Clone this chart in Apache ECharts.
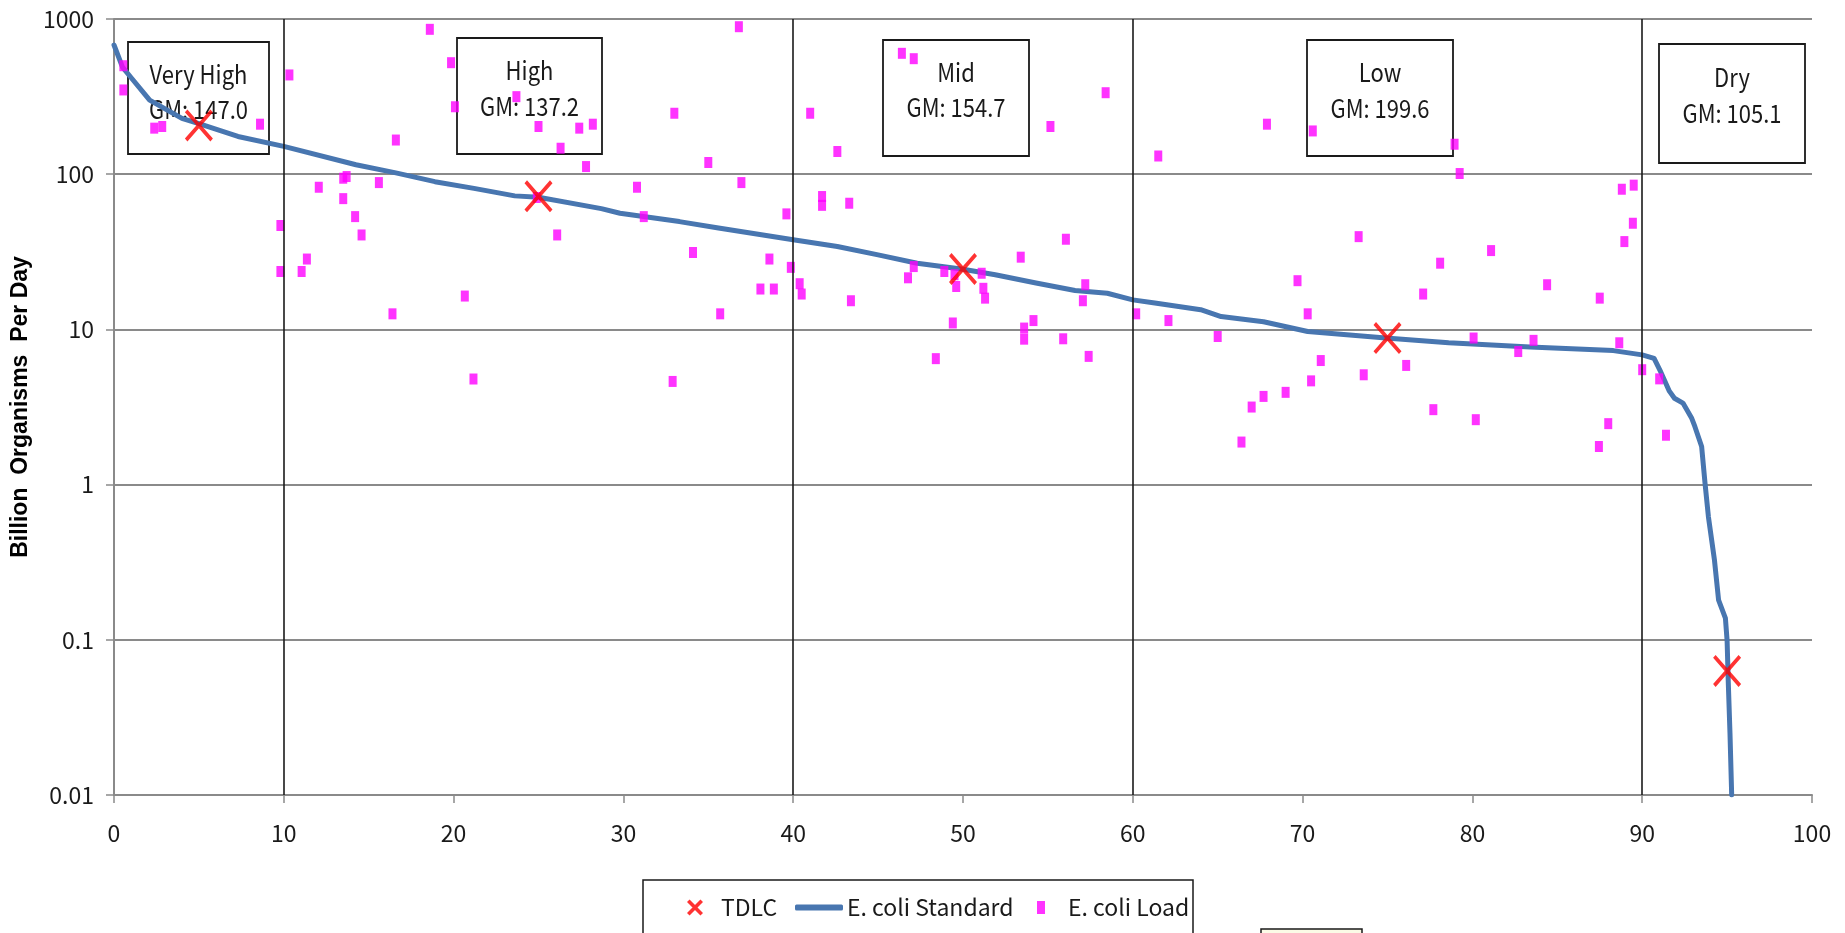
<!DOCTYPE html>
<html>
<head>
<meta charset="utf-8">
<script src="https://cdn.jsdelivr.net/npm/echarts@6/dist/echarts.min.js"></script>
<style>
html,body{margin:0;padding:0;background:#fff;}
#chart{width:1845px;height:933px;}
</style>
</head>
<body>
<div id="chart"></div>
<script>
// ---- data ----
const xTicks = [0,10,20,30,40,50,60,70,80,90,100];
const yTicks = [0.01,0.1,1,10,100,1000];
const flowBreaks = [10,40,60,90];
const zoneNames = ['Very High','High','Mid','Low','Dry'];
const zoneGM = ['GM: 147.0','GM: 137.2','GM: 154.7','GM: 199.6','GM: 105.1'];

const tdlcX = [5,25,50,75,95];
const tdlcY = [206,72,24.5,8.8,0.063];

const stdX = [0,0.5,1,2.1,4,5,7.3,10,14.25,16.6,18.9,21.2,23.6,25,28.7,29.8,33.3,35.6,40,42.6,45,47.3,50,51.9,54.3,56.6,58.5,60,61.3,64,65.2,67.7,70.3,74.9,78.6,83.4,88.3,90,90.7,91.1,91.6,91.9,92.4,92.9,93.1,93.5,93.7,93.9,94.25,94.5,94.9,95.0,95.07,95.17,95.27];
const stdY = [680,490,420,300,229,212,175,151,115,102,89.5,81,72.5,71,60,56,49.5,45,37.8,34.2,30.2,26.7,24.4,22.5,19.9,17.8,17.1,15.5,14.8,13.4,12.1,11.2,9.7,8.8,8.2,7.7,7.3,6.85,6.5,5.3,4.0,3.6,3.35,2.7,2.37,1.76,1.02,0.62,0.33,0.18,0.138,0.099,0.053,0.025,0.01];

const loadX = [0.55,0.55,2.37,2.84,8.6,10.33,9.8,9.8,11.05,11.36,12.06,13.5,13.7,13.5,14.2,14.58,15.6,16.6,16.4,18.6,19.85,20.08,20.66,21.17,23.7,25.0,24.9,26.3,27.4,28.2,27.8,26.1,
 36.8,33.0,35.0,30.8,36.95,31.2,34.1,38.6,39.6,39.86,38.07,38.86,40.38,40.5,35.7,32.9,41.0,42.6,41.7,41.7,43.3,43.4,46.4,47.1,47.1,46.76,48.9,49.5,49.6,51.1,51.2,51.3,49.4,48.4,53.4,54.15,53.6,53.6,55.9,56.06,55.15,58.4,57.2,57.06,57.4,61.5,60.2,62.1,65.0,
 67.9,70.6,78.95,79.25,88.8,89.5,89.45,88.95,73.3,81.1,78.1,69.7,77.1,84.4,87.5,70.3,80.07,83.6,82.7,88.65,90.0,91.0,71.07,76.1,73.6,70.5,69.0,67.7,67.0,77.7,66.4,80.2,88.0,87.45,91.4];
const loadY = [500,349,198,203,210,436,46.7,23.6,23.6,28.4,82.4,94.2,96.6,69.6,53.3,40.6,88.3,166,12.6,858,523,272,16.4,4.79,316,203,70.8,147,198,210,112,40.6,
 892,247,119,82.4,88.3,53.3,31.3,28.4,55.5,25.1,18.2,18.2,19.7,16.9,12.6,4.62,247,140,71.8,63,65,15.3,601,555,25.4,21.5,23.6,22.5,18.9,23.0,18.4,15.9,11.0,6.48,29.2,11.4,10.2,8.65,8.7,38.1,203,335,19.4,15.3,6.7,131,12.6,11.4,9.0,
 210,190,156,101,80,85,48.3,36.8,39.6,32.2,26.7,20.6,16.9,19.4,15.9,12.6,8.8,8.5,7.2,8.2,5.5,4.8,6.3,5.86,5.1,4.66,3.93,3.7,3.16,3.04,1.88,2.62,2.47,1.76,2.08];

// ---- styling ----
const FONT = '"Noto Sans CJK SC","Liberation Sans",Arial,sans-serif';
const GRID_COL = '#8a8a8a';
const TXT = '#1a1a1a';
const X_PATH = 'path://M0,0.9L0.9,0L10,9.1L9.1,10Z M9.1,0L10,0.9L0.9,10L0,9.1Z';
const X_LEG = 'path://M0,1.6L1.6,0L10,8.4L8.4,10Z M8.4,0L10,1.6L1.6,10L0,8.4Z';

const pairs = (xs, ys) => xs.map((x, i) => [x, ys[i]]);

// annotation boxes (pixel layout)
const boxes = [
  {x:128, y:42, w:141, h:112, t1:74, t2:109},
  {x:457, y:38, w:145, h:116, t1:70, t2:106},
  {x:883, y:40, w:146, h:116, t1:72, t2:107},
  {x:1307, y:40, w:146, h:116, t1:72, t2:108},
  {x:1659, y:44, w:146, h:119, t1:77, t2:113}
];
const graphics = [];
boxes.forEach((b, i) => {
  graphics.push({type:'rect', z:1, shape:{x:b.x, y:b.y, width:b.w, height:b.h},
    style:{fill:'rgba(0,0,0,0)', stroke:TXT, lineWidth:1.8}});
  graphics.push({type:'text', z:1, x:b.x + b.w/2, y:b.t1, scaleY:1.15,
    style:{text:zoneNames[i], font:'22px ' + FONT, fill:TXT, textAlign:'center', textVerticalAlign:'middle'}});
  graphics.push({type:'text', z:1, x:b.x + b.w/2, y:b.t2, scaleY:1.15,
    style:{text:zoneGM[i], font:'22px ' + FONT, fill:TXT, textAlign:'center', textVerticalAlign:'middle'}});
});
// legend frame and the clipped box below
graphics.push({type:'rect', z:1, shape:{x:643, y:880, width:550, height:70},
  style:{fill:'#fff', stroke:TXT, lineWidth:1.5}});
graphics.push({type:'rect', z:1, shape:{x:1261, y:929, width:101, height:12},
  style:{fill:'#fbfbe6', stroke:TXT, lineWidth:1.5}});

const chart = echarts.init(document.getElementById('chart'));
const legendText = {fontFamily: FONT, fontSize: 23, color: TXT};
chart.setOption({
  backgroundColor: '#fff',
  animation: false,
  grid: {left:114, right:33, top:19, bottom:138, outerBoundsMode:'none', containLabel:false},
  graphic: graphics,
  legend: [
    {data:[{name:'TDLC', icon:X_LEG}], left:687, top:896, padding:0, itemWidth:16, itemHeight:20,
     textStyle:Object.assign({padding:[0,0,0,13]}, legendText), z:5},
    {data:[{name:'E. coli Standard', icon:'roundRect'}], left:795, top:896, padding:0, itemWidth:48, itemHeight:6,
     textStyle:Object.assign({padding:[0,0,0,-1]}, legendText), z:5},
    {data:[{name:'E. coli Load', icon:'rect'}], left:1037, top:896, padding:0, itemWidth:8, itemHeight:13,
     textStyle:Object.assign({padding:[0,0,0,18]}, legendText), z:5}
  ],
  xAxis: {
    type:'value', min:xTicks[0], max:xTicks[xTicks.length-1], interval:10,
    axisLine:{show:true, lineStyle:{color:GRID_COL, width:2}},
    axisTick:{show:true, length:8, lineStyle:{color:GRID_COL, width:1.5}},
    splitLine:{show:false},
    axisLabel:{fontFamily:FONT, fontSize:23, color:TXT, margin:27}
  },
  yAxis: {
    type:'log', logBase:10, min:yTicks[0], max:yTicks[yTicks.length-1],
    name:'Billion  Organisms  Per Day', nameLocation:'middle', nameRotate:90, nameGap:79,
    nameTextStyle:{fontFamily:'"Liberation Sans",Arial,sans-serif', fontWeight:'bold', fontSize:23, color:'#000'},
    axisLine:{show:true, lineStyle:{color:GRID_COL, width:2}},
    axisTick:{show:true, length:8, lineStyle:{color:GRID_COL, width:1.5}},
    splitLine:{show:true, lineStyle:{color:GRID_COL, width:2}},
    axisLabel:{fontFamily:FONT, fontSize:23, color:TXT, margin:20,
      formatter: v => { const n = Number(v); return yTicks.find(t => Math.abs(Math.log10(t) - Math.log10(n)) < 1e-6) !== undefined ? String(+n.toPrecision(3)) : ''; }}
  },
  series: [
    {
      name:'TDLC', type:'scatter', z:5,
      data: pairs(tdlcX, tdlcY),
      symbol: X_PATH, symbolSize:[28,32],
      itemStyle:{color:'#ff0000'}
    },
    {
      name:'E. coli Standard', type:'line', z:3,
      data: pairs(stdX, stdY),
      showSymbol:false, symbol:'none', smooth:false,
      lineStyle:{color:'#4876b0', width:5, cap:'round', join:'round'},
      itemStyle:{color:'#4876b0'},
      markLine:{
        silent:true, symbol:['none','none'], label:{show:false}, animation:false,
        lineStyle:{color:TXT, width:1.6, type:'solid'},
        data: flowBreaks.map(v => ({xAxis:v}))
      }
    },
    {
      name:'E. coli Load', type:'scatter', z:4,
      data: pairs(loadX, loadY),
      symbol:'rect', symbolSize:[8,11],
      itemStyle:{color:'#ff00ff'}
    }
  ]
});
</script>
</body>
</html>
